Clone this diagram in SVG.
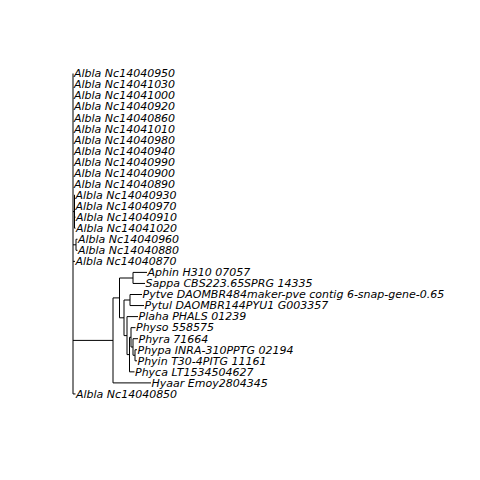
<svg xmlns="http://www.w3.org/2000/svg" width="480" height="480" viewBox="0 0 480 480">
<style>
.lbl{font-family:"DejaVu Sans","Liberation Sans",sans-serif;font-style:italic;font-size:11px;fill:#000}
.e{fill:none;stroke:#000;stroke-width:1}
</style>
<rect width="480" height="480" fill="#fff"/>
<g id="connectors" class="e">
<path d="M73 73.5V393.95"/>
<path d="M73 211.6H74.5M74.5 195.05V228.2M74.5 195.05H75M74.5 206.1H75M74.5 217.15H75.5M74.5 228.2H75.5"/>
<path d="M73 244.8H76M76 239.25V250.3M76 239.25H77.5M76 250.3H77.5"/>
<path d="M73 261.35H75M73 393.95H75.5"/>
<path d="M73 340.4H113M113 297.9V382.9M113 382.9H151"/>
<path d="M113 297.9H119.5M119.5 278V317.8"/>
<path d="M119.5 278H133M133 272.4V283.45M133 272.4H147M133 283.45H145"/>
<path d="M119.5 317.8H124M124 300V335.6"/>
<path d="M124 300H130M130 294.5V305.55M130 294.5H142M130 305.55H144"/>
<path d="M124 335.6H127M127 316.6V354.6M127 316.6H138"/>
<path d="M127 354.6H129.5M129.5 337.3V371.85M129.5 371.85H134.5"/>
<path d="M129.5 337.3H131M131 327.65V347M131 327.65H135.5"/>
<path d="M131 347H133M133 338.7V355.25M133 338.7H138"/>
<path d="M133 355.25H135M135 349.75V360.8M135 349.75H137M135 360.8H137"/>
</g>
<g id="t01"><text class="lbl" x="74" y="77.3">Albla Nc14040950</text></g>
<g id="t02"><text class="lbl" x="74" y="88.35">Albla Nc14041030</text></g>
<g id="t03"><text class="lbl" x="74" y="99.4">Albla Nc14041000</text></g>
<g id="t04"><text class="lbl" x="74" y="110.45">Albla Nc14040920</text></g>
<g id="t05"><text class="lbl" x="74" y="121.5">Albla Nc14040860</text></g>
<g id="t06"><text class="lbl" x="74" y="132.55">Albla Nc14041010</text></g>
<g id="t07"><text class="lbl" x="74" y="143.6">Albla Nc14040980</text></g>
<g id="t08"><text class="lbl" x="74" y="154.65">Albla Nc14040940</text></g>
<g id="t09"><text class="lbl" x="74" y="165.7">Albla Nc14040990</text></g>
<g id="t10"><text class="lbl" x="74" y="176.75">Albla Nc14040900</text></g>
<g id="t11"><text class="lbl" x="74" y="187.8">Albla Nc14040890</text></g>
<g id="t12"><text class="lbl" x="75.5" y="198.85">Albla Nc14040930</text></g>
<g id="t13"><text class="lbl" x="75.5" y="209.9">Albla Nc14040970</text></g>
<g id="t14"><text class="lbl" x="76" y="220.95">Albla Nc14040910</text></g>
<g id="t15"><text class="lbl" x="76" y="232">Albla Nc14041020</text></g>
<g id="t16"><text class="lbl" x="78" y="243.05">Albla Nc14040960</text></g>
<g id="t17"><text class="lbl" x="78" y="254.1">Albla Nc14040880</text></g>
<g id="t18"><text class="lbl" x="75.5" y="265.15">Albla Nc14040870</text></g>
<g id="t19"><text class="lbl" x="147.5" y="276.2">Aphin H310 07057</text></g>
<g id="t20"><text class="lbl" x="145.5" y="287.25">Sappa CBS223.65SPRG 14335</text></g>
<g id="t21"><text class="lbl" x="142.5" y="298.3">Pytve DAOMBR484maker-pve contig 6-snap-gene-0.65</text></g>
<g id="t22"><text class="lbl" x="144.5" y="309.35">Pytul DAOMBR144PYU1 G003357</text></g>
<g id="t23"><text class="lbl" x="138.5" y="320.4">Plaha PHALS 01239</text></g>
<g id="t24"><text class="lbl" x="136" y="331.45">Physo 558575</text></g>
<g id="t25"><text class="lbl" x="138.5" y="342.5">Phyra 71664</text></g>
<g id="t26"><text class="lbl" x="137.5" y="353.55">Phypa INRA-310PPTG 02194</text></g>
<g id="t27"><text class="lbl" x="137.5" y="364.6">Phyin T30-4PITG 11161</text></g>
<g id="t28"><text class="lbl" x="135" y="375.65">Phyca LT1534504627</text></g>
<g id="t29"><text class="lbl" x="151.5" y="386.7">Hyaar Emoy2804345</text></g>
<g id="t30"><text class="lbl" x="76" y="397.75">Albla Nc14040850</text></g>
</svg>
